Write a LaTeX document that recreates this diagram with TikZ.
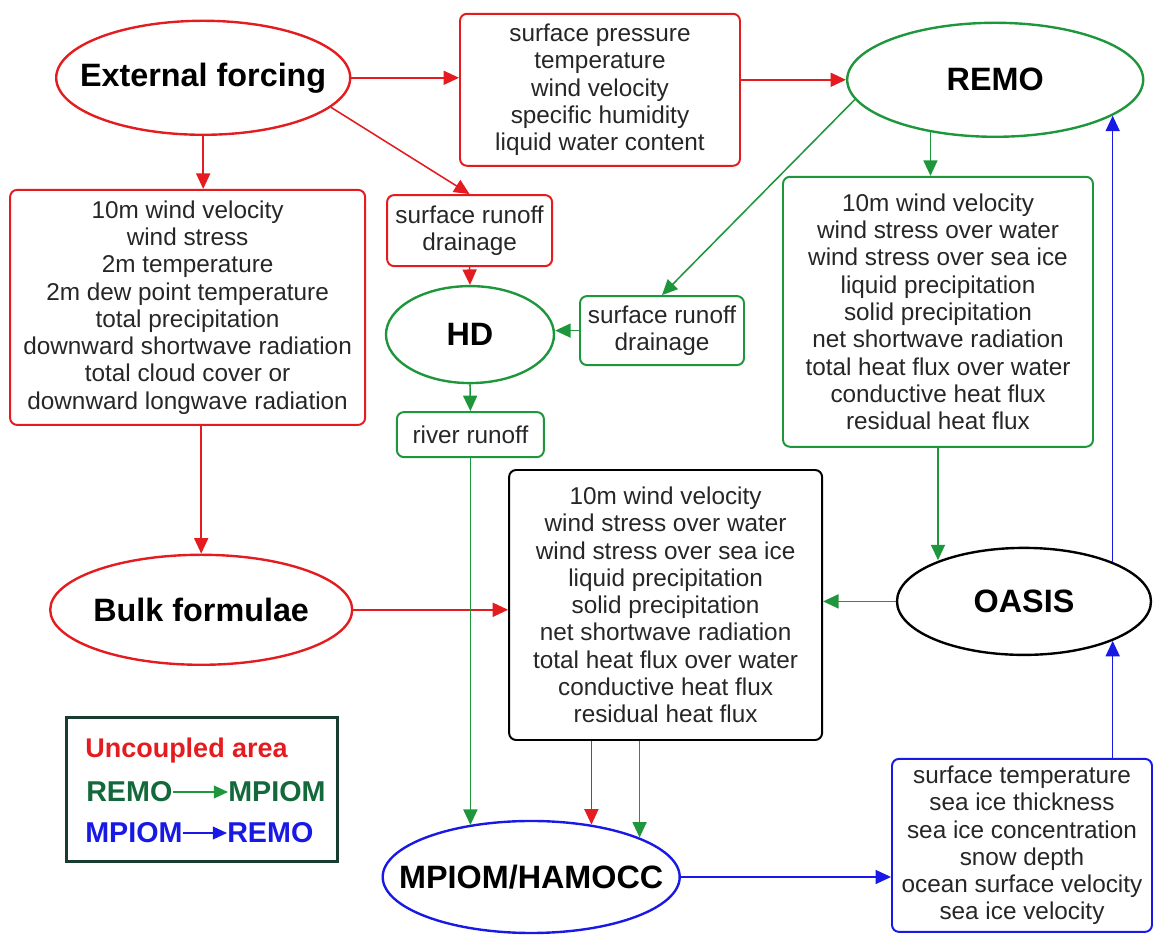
\documentclass[tikz,border=0pt]{standalone}
\usepackage{fontspec}
\setmainfont{Liberation Sans}
\usetikzlibrary{arrows.meta,shapes.geometric}
\definecolor{fred}{RGB}{228,28,32}
\definecolor{fgreen}{RGB}{30,150,60}
\definecolor{fblue}{RGB}{25,25,230}
\definecolor{legtxt}{RGB}{20,105,60}
\definecolor{legframe}{RGB}{25,60,50}
\tikzset{
  model/.style={ellipse,draw,line width=1.7pt,inner sep=0pt},
  modeltext/.style={font=\fontsize{23}{26}\selectfont\bfseries},
  varbox/.style={rectangle,draw,rounded corners=5pt,line width=1.4pt,inner sep=0pt,
    align=center,text=black!85,font=\fontsize{17.3}{19.4}\selectfont},
  flow/.style={line width=1.1pt,-{Triangle[length=11pt,width=10pt]}},
  legtext/.style={anchor=west,inner sep=0pt,font=\fontsize{20.4}{24}\selectfont\bfseries}
}
\begin{document}
\begin{tikzpicture}
\useasboundingbox (0,0) rectangle (28.85,23.375);
%models
\node[model,draw=fred,minimum width=7.35cm,minimum height=2.85cm,
  label={[modeltext]center:External forcing}] (force) at (5.08,21.43) {};
\node[model,draw=fgreen,minimum width=7.4cm,minimum height=2.85cm,
  label={[modeltext]center:REMO}] (remo) at (24.88,21.38) {};
\node[model,draw=fgreen,minimum width=4.2cm,minimum height=2.425cm,
  label={[modeltext]center:HD}] (hd) at (11.75,15.01) {};
\node[model,draw=fred,minimum width=7.55cm,minimum height=2.75cm,
  label={[modeltext]center:Bulk formulae}] (bulk) at (5.03,8.13) {};
\node[model,draw=black,minimum width=6.35cm,minimum height=2.675cm,
  label={[modeltext]center:OASIS}] (oasis) at (25.6,8.34) {};
\node[model,draw=fblue,minimum width=7.425cm,minimum height=2.8cm,
  label={[modeltext]center:MPIOM/HAMOCC}] (mpiom) at (13.28,1.45) {};
%variables
\node[varbox,draw=fred,minimum width=7cm,minimum height=3.8cm] (atmbox) at (15.0,21.13)
  {surface pressure\\temperature\\wind velocity\\specific humidity\\liquid water content};
\node[varbox,draw=fred,minimum width=8.875cm,minimum height=5.875cm] (bulkin) at (4.69,15.69)
  {10m wind velocity\\wind stress\\2m temperature\\2m dew point temperature\\total precipitation\\
   downward shortwave radiation\\total cloud cover or\\downward longwave radiation};
\node[varbox,draw=fred,minimum width=4.125cm,minimum height=1.775cm] (runred) at (11.74,17.61)
  {surface runoff\\drainage};
\node[varbox,draw=fgreen,minimum width=4.1cm,minimum height=1.725cm] (rungreen) at (16.55,15.11)
  {surface runoff\\drainage};
\node[varbox,draw=fgreen,minimum width=3.675cm,minimum height=1.125cm] (river) at (11.76,12.51)
  {river runoff};
\node[varbox,draw=fgreen,minimum width=7.75cm,minimum height=6.75cm] (remoout) at (23.45,15.58)
  {10m wind velocity\\wind stress over water\\wind stress over sea ice\\liquid precipitation\\
   solid precipitation\\net shortwave radiation\\total heat flux over water\\conductive heat flux\\
   residual heat flux};
\node[varbox,draw=black,minimum width=7.825cm,minimum height=6.75cm] (oceanin) at (16.64,8.25)
  {10m wind velocity\\wind stress over water\\wind stress over sea ice\\liquid precipitation\\
   solid precipitation\\net shortwave radiation\\total heat flux over water\\conductive heat flux\\
   residual heat flux};
\node[varbox,draw=fblue,minimum width=6.5cm,minimum height=4.325cm] (oceanout) at (25.55,2.24)
  {surface temperature\\sea ice thickness\\sea ice concentration\\snow depth\\
   ocean surface velocity\\sea ice velocity};
%forcing side
\draw[flow,fred] (force.east) -- (force.east -| atmbox.west);
\draw[flow,fred] (remo.west -| atmbox.east) -- (remo.west);
\draw[flow,fred] (force.south) -- (force.south |- bulkin.north);
\draw[flow,fred] (force.-13) -- (runred.north);
\draw[flow,fred] (runred.south) -- (hd.north);
\draw[flow,fred] (bulk.north |- bulkin.south) -- (bulk.north);
\draw[flow,fred] (bulk.east) -- (bulk.east -| oceanin.west);
\draw[flow,fred] (oceanin.south -| mpiom.41) -- (mpiom.41);
%remo to mpiom
\draw[flow,fgreen] (remo.188) -- (rungreen.north);
\draw[flow,fgreen] (rungreen.west) -- (rungreen.west -| hd.east);
\draw[flow,fgreen] (hd.south) -- (river.north);
\draw[flow,fgreen] (river.south) -- (river.south |- mpiom.140);
\draw[flow,fgreen] (remo.-141) -- (remo.-141 |- remoout.north);
\draw[flow,fgreen] (remoout.south) -- (remoout.south |- oasis.154);
\draw[flow,fgreen] (oasis.west) -- (oasis.west -| oceanin.east);
\draw[flow,fgreen] (oceanin.south -| mpiom.20) -- (mpiom.20);
%mpiom to remo
\draw[flow,fblue] (mpiom.east) -- (mpiom.east -| oceanout.west);
\draw[flow,fblue] (oceanout.north -| oasis.-24) -- (oasis.-24);
\draw[flow,fblue] (oasis.24) -- (oasis.24 |- remo.-17);
%legend
\node[draw=legframe,line width=2pt,minimum width=6.775cm,minimum height=3.6cm] (legend) at (5.06,3.63) {};
\node[legtext,text=fred,font=\fontsize{19.2}{22}\selectfont\bfseries] (uncoupled) at (2.125,4.6) {Uncoupled area};
\node[legtext,text=legtxt] (remoa) at (2.15,3.575) {REMO};
\node[legtext,text=legtxt] (mpioma) at (5.7,3.575) {MPIOM};
\node[legtext,text=fblue] (mpiomb) at (2.125,2.55) {MPIOM};
\node[legtext,text=fblue] (remob) at (5.675,2.55) {REMO};
\draw[fgreen,line width=1.1pt,-{Triangle[length=10pt,width=9pt]}] (remoa.east) -- (mpioma.west);
\draw[fblue,line width=1.1pt,-{Triangle[length=10pt,width=9pt]}] (mpiomb.east) -- (remob.west);
\end{tikzpicture}
\end{document}
